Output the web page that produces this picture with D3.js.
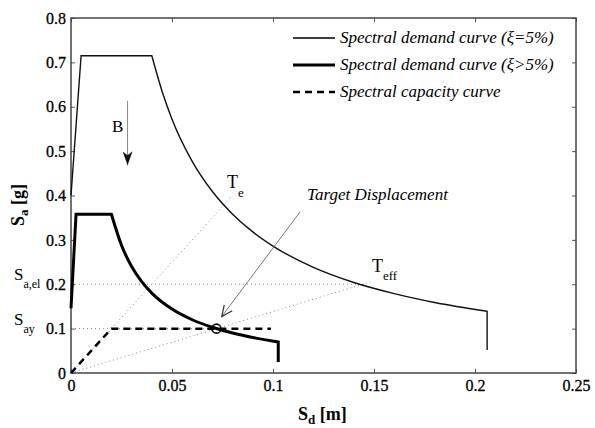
<!DOCTYPE html>
<html>
<head>
<meta charset="utf-8">
<script src="https://cdn.jsdelivr.net/npm/d3@7"></script>
<style>
  body { margin: 0; background: #fff; }
  svg, svg text { font-family: 'Liberation Serif', 'Times New Roman', Tinos, 'DejaVu Serif', 'Noto Serif', FreeSerif, serif; }
</style>
</head>
<body>
<svg id="chart" width="595" height="428"></svg>
<script>
// ticks
const xTicks = [0, 0.05, 0.1, 0.15, 0.2, 0.25];
const xTickLabels = ['0', '0.05', '0.1', '0.15', '0.2', '0.25'];
const yTicks = [0, 0.1, 0.2, 0.3, 0.4, 0.5, 0.6, 0.7, 0.8];
const yTickLabels = ['0', '0.1', '0.2', '0.3', '0.4', '0.5', '0.6', '0.7', '0.8'];

// elastic demand (xi = 5%): rise + plateau, decay, drop
const elasticRise = [[0, 0.40], [0.005, 0.715], [0.040, 0.715]];
const elasticDecay = [[0.040, 0.715], [0.045, 0.636], [0.05, 0.572], [0.06, 0.477], [0.07, 0.409],
  [0.08, 0.358], [0.09, 0.318], [0.10, 0.286], [0.12, 0.238], [0.14, 0.204],
  [0.16, 0.179], [0.18, 0.159], [0.206, 0.139]];
const elasticDrop = [[0.206, 0.139], [0.206, 0.052]];

// reduced demand (xi > 5%)
const reducedRise = [[0, 0.146], [0.0025, 0.358], [0.020, 0.358]];
const reducedDecay = [[0.020, 0.358], [0.025, 0.288], [0.03, 0.240], [0.035, 0.206], [0.04, 0.180],
  [0.05, 0.144], [0.06, 0.120], [0.07, 0.103], [0.08, 0.090], [0.09, 0.080], [0.1026, 0.070]];
const reducedDrop = [[0.1026, 0.070], [0.1026, 0.025]];

// capacity curve
const capacity = [[0, 0], [0.020, 0.1], [0.099, 0.1]];

// guide lines (dotted)
const teLine = [[0, 0], [0.08, 0.40]];
const teffLine = [[0, 0], [0.148, 0.205]];
const saElLine = [[0, 0.2], [0.146, 0.2]];
const sayLine = [[0, 0.1], [0.072, 0.1]];

const target = [0.072, 0.1];

const legendItems = [
  { label: 'Spectral demand curve (ξ=5%)', width: 1.4, dash: null },
  { label: 'Spectral demand curve (ξ>5%)', width: 3, dash: null },
  { label: 'Spectral capacity curve', width: 2.5, dash: '7,5' }
];

const W = 595, H = 428;
const margin = { top: 18, right: 19, bottom: 55, left: 71 };
const svg = d3.select('#chart');

const x = d3.scaleLinear().domain([0, 0.25]).range([margin.left, W - margin.right]);
const y = d3.scaleLinear().domain([0, 0.8]).range([H - margin.bottom, margin.top]);

const line = d3.line().x(d => x(d[0])).y(d => y(d[1]));
const smooth = d3.line().x(d => x(d[0])).y(d => y(d[1])).curve(d3.curveMonotoneX);

// join linear + smooth + linear parts into one path
function joined(a, b, c) {
  return line(a) + smooth(b).replace(/^M/, 'L') + line(c).replace(/^M/, 'L');
}

// dotted guides
const guides = svg.append('g')
  .attr('fill', 'none').attr('stroke', '#8a8a8a').attr('stroke-width', 1).attr('stroke-dasharray', '1,3');
[teLine, teffLine, saElLine, sayLine].forEach(l => guides.append('path').attr('d', line(l)));

// axes
const fmtX = (d, i) => xTickLabels[i];
const fmtY = (d, i) => yTickLabels[i];

svg.append('g')
  .attr('transform', `translate(0,${y(0)})`)
  .call(d3.axisBottom(x).tickValues(xTicks).tickFormat(fmtX).tickSizeInner(-4).tickSizeOuter(0).tickPadding(7));
svg.append('g')
  .attr('transform', `translate(0,${y(0.8)})`)
  .call(d3.axisTop(x).tickValues(xTicks).tickFormat('').tickSizeInner(-4).tickSizeOuter(0));
svg.append('g')
  .attr('transform', `translate(${x(0)},0)`)
  .call(d3.axisLeft(y).tickValues(yTicks).tickFormat(fmtY).tickSizeInner(-4).tickSizeOuter(0).tickPadding(5));
svg.append('g')
  .attr('transform', `translate(${x(0.25)},0)`)
  .call(d3.axisRight(y).tickValues(yTicks).tickFormat('').tickSizeInner(-4).tickSizeOuter(0));

svg.selectAll('g').attr('font-family', null).attr('font-size', null);
svg.selectAll('.domain').remove();
svg.selectAll('.tick line').attr('stroke', '#555');
svg.selectAll('.tick text')
  .attr('font-size', 16)
  .attr('fill', '#000')
  .attr('stroke', '#000').attr('stroke-width', 0.3);

svg.append('rect')
  .attr('x', x(0)).attr('y', y(0.8))
  .attr('width', x(0.25) - x(0)).attr('height', y(0) - y(0.8))
  .attr('fill', 'none').attr('stroke', '#444').attr('stroke-width', 1.5);

// curves
svg.append('path')
  .attr('d', joined(elasticRise, elasticDecay, elasticDrop))
  .attr('fill', 'none').attr('stroke', '#111').attr('stroke-width', 1.4);
svg.append('path')
  .attr('d', joined(reducedRise, reducedDecay, reducedDrop))
  .attr('fill', 'none').attr('stroke', '#000').attr('stroke-width', 3);
svg.append('path')
  .attr('d', line(capacity))
  .attr('fill', 'none').attr('stroke', '#000').attr('stroke-width', 2.5).attr('stroke-dasharray', '7,5');

svg.append('circle')
  .attr('cx', x(target[0])).attr('cy', y(target[1])).attr('r', 4.5)
  .attr('fill', 'none').attr('stroke', '#000').attr('stroke-width', 1.6);

// legend
const lg = svg.append('g').attr('transform', 'translate(293,38)');
legendItems.forEach((d, i) => {
  const gy = i * 27;
  lg.append('line')
    .attr('x1', 0).attr('x2', 42).attr('y1', gy).attr('y2', gy)
    .attr('stroke', '#000').attr('stroke-width', d.width)
    .attr('stroke-dasharray', d.dash);
  lg.append('text')
    .attr('x', 47).attr('y', gy + 5)
    .attr('font-size', 17).attr('font-style', 'italic')
    .text(d.label);
});

// annotations
const defs = svg.append('defs');
defs.append('marker')
  .attr('id', 'openHead').attr('viewBox', '0 0 12 12')
  .attr('refX', 11).attr('refY', 6).attr('markerWidth', 12).attr('markerHeight', 12)
  .attr('markerUnits', 'userSpaceOnUse').attr('orient', 'auto')
  .append('path').attr('d', 'M0,1 L11,6 L0,11')
  .attr('fill', 'none').attr('stroke', '#333').attr('stroke-width', 1.2);
defs.append('marker')
  .attr('id', 'solidHead').attr('viewBox', '0 0 14 10')
  .attr('refX', 14).attr('refY', 5).attr('markerWidth', 15).attr('markerHeight', 10)
  .attr('markerUnits', 'userSpaceOnUse').attr('orient', 'auto')
  .append('path').attr('d', 'M0,0 L14,5 L0,10 L4,5 Z').attr('fill', '#111');

svg.append('line')
  .attr('x1', x(0.1134)).attr('y1', y(0.363))
  .attr('x2', x(0.0746)).attr('y2', y(0.127))
  .attr('stroke', '#777').attr('stroke-width', 1)
  .attr('marker-end', 'url(#openHead)');

svg.append('line')
  .attr('x1', x(0.028)).attr('y1', y(0.613))
  .attr('x2', x(0.028)).attr('y2', y(0.468))
  .attr('stroke', '#888').attr('stroke-width', 1)
  .attr('marker-end', 'url(#solidHead)');

svg.append('text').attr('x', 112).attr('y', 132).attr('font-size', 17).text('B');

svg.append('text').attr('x', 307).attr('y', 200)
  .attr('font-size', 17).attr('font-style', 'italic').text('Target Displacement');

function subLabel(px, py, main, sub, size, subSize, shift) {
  const t = svg.append('text').attr('x', px).attr('y', py).attr('font-size', size);
  t.append('tspan').text(main);
  t.append('tspan').attr('dy', shift).attr('font-size', subSize).text(sub);
  return t;
}
subLabel(227, 188, 'T', 'e', 18, 13, 9);
subLabel(372, 272, 'T', 'eff', 18, 13, 8);
subLabel(14, 280, 'S', 'a,el', 17, 12, 8);
subLabel(14, 325, 'S', 'ay', 17, 12, 8);

// axis titles
subLabel(298, 420, 'S', 'd', 18, 13, 4).attr('font-weight', 'bold')
  .append('tspan').attr('dy', -4).attr('font-size', 18).text(' [m]');
subLabel(0, 0, 'S', 'a', 18, 13, 4).attr('font-weight', 'bold')
  .attr('transform', 'translate(24,226) rotate(-90)')
  .append('tspan').attr('dy', -4).attr('font-size', 18).text(' [g]');
</script>
</body>
</html>
